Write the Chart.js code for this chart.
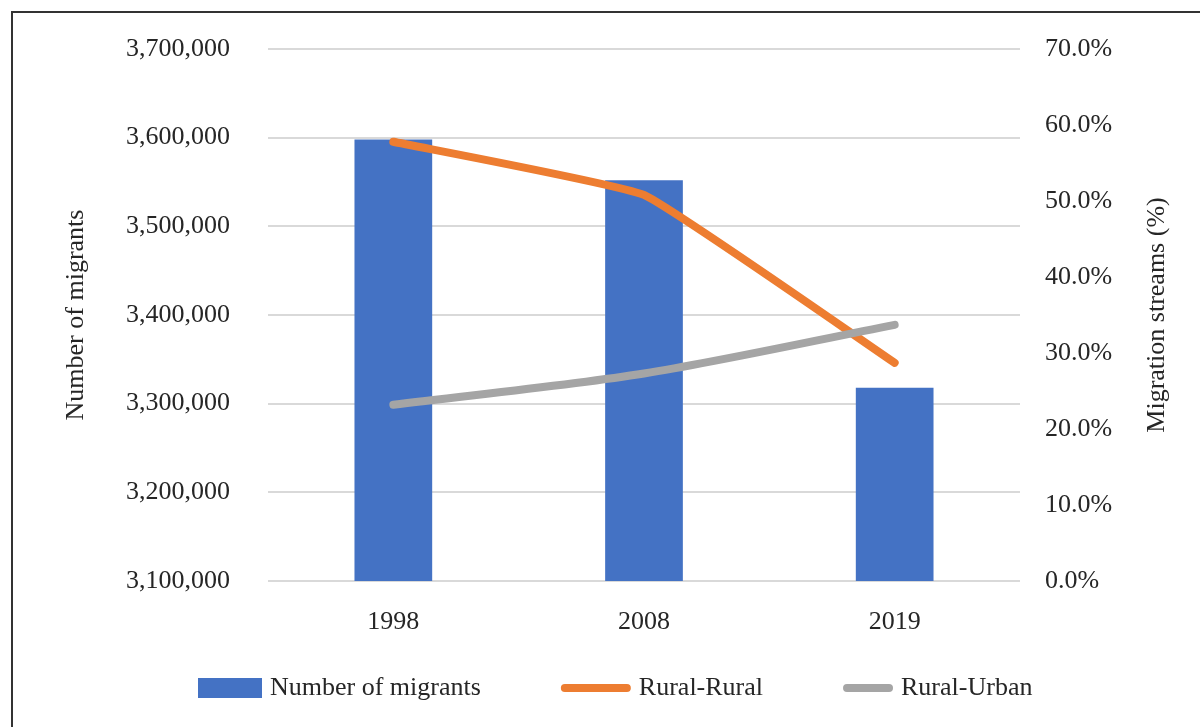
<!DOCTYPE html>
<html>
<head>
<meta charset="utf-8">
<script src="https://cdn.jsdelivr.net/npm/chart.js@4"></script>
<style>
  html, body { margin: 0; padding: 0; background: #fff; }
  #wrap { position: relative; width: 1200px; height: 727px; overflow: hidden; }
  #frame { position: absolute; left: 11px; top: 11px; width: 1400px; height: 900px; border: 2px solid #333; pointer-events: none; }
</style>
</head>
<body>
<div id="wrap">
  <canvas id="chart" width="1200" height="727"></canvas>
  <div id="frame"></div>
</div>
<script>
// Survey years and series
const years = ['1998', '2008', '2019'];
const migrants = [3598000, 3552000, 3318000];
const ruralRural = [57.8, 50.8, 28.7];
const ruralUrban = [23.2, 27.3, 33.7];

// Axis ranges: [min, max, step]
const migrantRange = [3100000, 3700000, 100000];
const streamRange = [0, 70, 10];

const FONT_FAMILY = "'Liberation Serif', 'Times New Roman', serif";
const FONT_SIZE = 26;
const TEXT = '#262626';

// Axis title on the right, reading bottom-to-top like the left one
const rightTitle = {
    id: 'rightTitle',
    afterDraw(chart) {
        const ctx = chart.ctx;
        const area = chart.chartArea;
        ctx.save();
        ctx.translate(1157, (area.top + area.bottom) / 2);
        ctx.rotate(-Math.PI / 2);
        ctx.font = FONT_SIZE + 'px ' + FONT_FAMILY;
        ctx.fillStyle = TEXT;
        ctx.textAlign = 'center';
        ctx.textBaseline = 'middle';
        ctx.fillText('Migration streams (%)', 0, 0);
        ctx.restore();
    }
};

// Legend row under the axis labels, swatch sizes differ per series
const bottomLegend = {
    id: 'bottomLegend',
    afterDraw(chart) {
        const ctx = chart.ctx;
        const swatch = [64, 70, 50];
        const y = 688;
        let x = 198;
        ctx.save();
        ctx.font = FONT_SIZE + 'px ' + FONT_FAMILY;
        ctx.textBaseline = 'middle';
        chart.data.datasets.forEach((ds, i) => {
            const w = swatch[i];
            if (ds.type === 'bar') {
                ctx.fillStyle = ds.backgroundColor;
                ctx.fillRect(x, y - 10, w, 20);
            } else {
                ctx.strokeStyle = ds.borderColor;
                ctx.lineWidth = 8;
                ctx.lineCap = 'round';
                ctx.beginPath();
                ctx.moveTo(x + 4, y);
                ctx.lineTo(x + w - 4, y);
                ctx.stroke();
            }
            x += w + 8;
            ctx.fillStyle = TEXT;
            ctx.fillText(ds.label, x, y);
            x += ctx.measureText(ds.label).width + 80;
        });
        ctx.restore();
    }
};

const tickFont = { family: FONT_FAMILY, size: FONT_SIZE };

new Chart(document.getElementById('chart').getContext('2d'), {
    data: {
        labels: years,
        datasets: [
            {
                type: 'bar',
                label: 'Number of migrants',
                data: migrants,
                backgroundColor: '#4472C4',
                yAxisID: 'y',
                barPercentage: 0.31,
                categoryPercentage: 1,
                order: 3
            },
            {
                type: 'line',
                label: 'Rural-Rural',
                data: ruralRural,
                borderColor: '#ED7D31',
                borderWidth: 8,
                borderCapStyle: 'round',
                borderJoinStyle: 'round',
                pointRadius: 0,
                tension: 0.1,
                yAxisID: 'y1',
                order: 2
            },
            {
                type: 'line',
                label: 'Rural-Urban',
                data: ruralUrban,
                borderColor: '#A5A5A5',
                borderWidth: 8,
                borderCapStyle: 'round',
                borderJoinStyle: 'round',
                pointRadius: 0,
                tension: 0.3,
                yAxisID: 'y1',
                order: 1
            }
        ]
    },
    options: {
        responsive: false,
        animation: false,
        devicePixelRatio: 1,
        layout: { padding: { top: 49, left: 0, right: 0, bottom: 0 } },
        plugins: {
            legend: { display: false },
            tooltip: { enabled: false }
        },
        scales: {
            x: {
                offset: true,
                grid: { display: false },
                border: { display: false },
                ticks: { font: tickFont, color: TEXT, padding: 18 },
                afterFit(scale) { scale.height = 146; }
            },
            y: {
                position: 'left',
                min: migrantRange[0],
                max: migrantRange[1],
                // invisible tick marks keep the labels clear of the plot
                grid: { color: '#D9D9D9', lineWidth: 2, tickLength: 38, tickColor: 'rgba(0,0,0,0)' },
                border: { display: false },
                ticks: {
                    stepSize: migrantRange[2],
                    font: tickFont,
                    color: TEXT,
                    padding: 0,
                    callback: v => v.toLocaleString('en-US')
                },
                title: {
                    display: true,
                    text: 'Number of migrants',
                    font: tickFont,
                    color: TEXT,
                    padding: { top: 61, bottom: 0 }
                },
                afterFit(scale) { scale.width = 268; }
            },
            y1: {
                position: 'right',
                min: streamRange[0],
                max: streamRange[1],
                grid: { drawOnChartArea: false, tickLength: 25, tickColor: 'rgba(0,0,0,0)' },
                border: { display: false },
                ticks: {
                    stepSize: streamRange[2],
                    font: tickFont,
                    color: TEXT,
                    padding: 0,
                    callback: v => v.toFixed(1) + '%'
                },
                afterFit(scale) { scale.width = 180; }
            }
        }
    },
    plugins: [rightTitle, bottomLegend]
});
</script>
</body>
</html>
